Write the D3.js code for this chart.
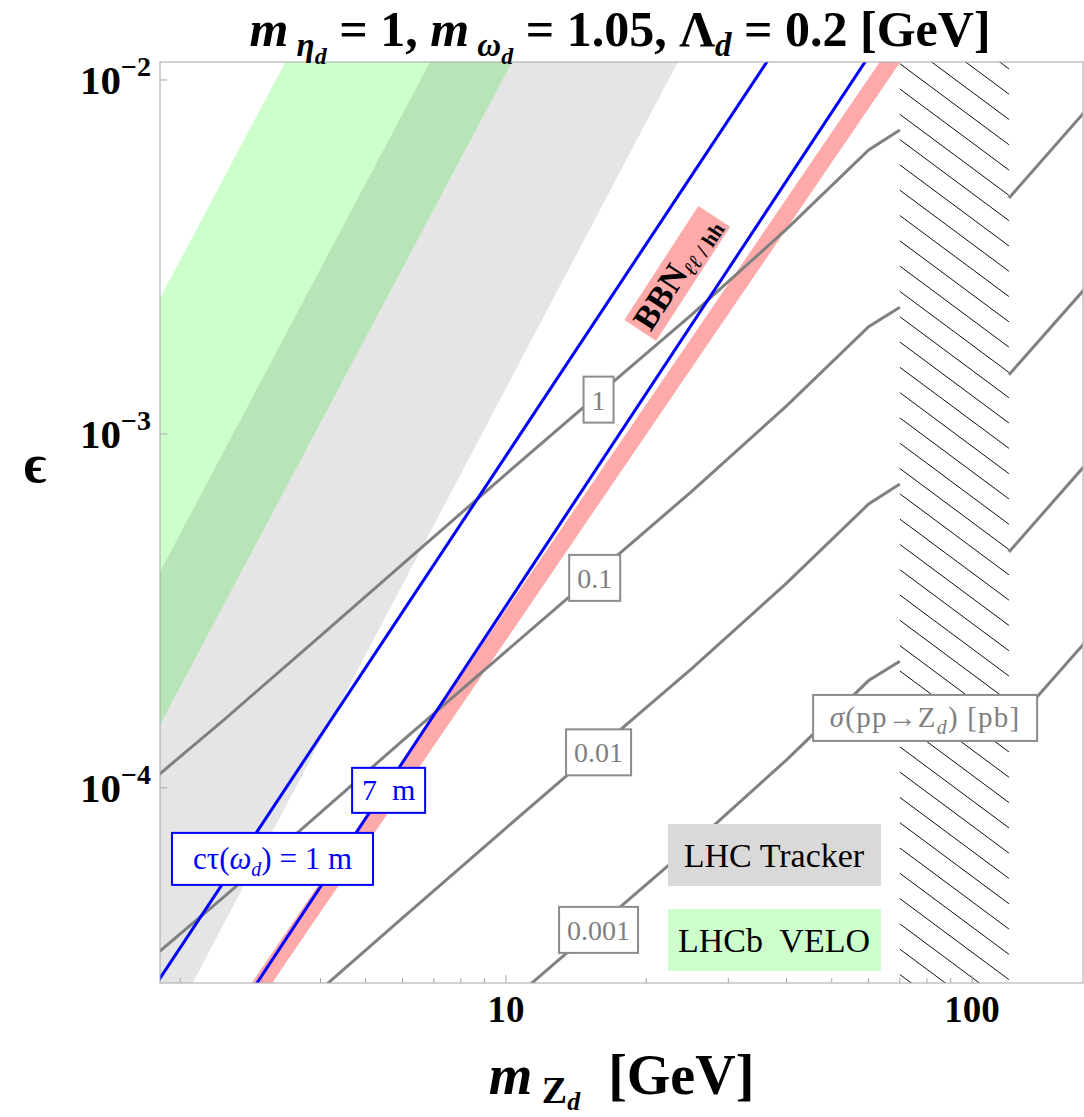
<!DOCTYPE html>
<html>
<head>
<meta charset="utf-8">
<script src="https://cdn.jsdelivr.net/npm/d3@7"></script>
<style>
  body { margin: 0; background: #fff; }
  svg text { font-family: "Liberation Serif", "Times New Roman", serif; white-space: pre; }
</style>
</head>
<body>
<div id="chart"></div>
<script>
// axis ranges and ticks
const massDomain = [1.81, 173];
const epsDomain = [2.81e-5, 0.01124];
const xTickMajor = [10, 100];
const xTickMinor = [2, 3, 4, 5, 6, 7, 8, 9, 20, 30, 40, 50, 60, 70, 80, 90];
const yTickMajor = [1e-4, 1e-3, 1e-2];
const yTickExp = ["4", "3", "2"];

// excluded bands (polygons in m_Zd, epsilon)
const veloBand = [[1.7, 2.07e-3], [3.51, 1.25e-2], [10.75, 1.25e-2], [1.7, 1.29e-4]];
const trackerBand = [[1.7, 3.49e-4], [7.17, 1.25e-2], [24.4, 1.25e-2], [2.03, 2.5e-5], [1.7, 2.5e-5]];
const zGap = [70, 120];

// cross-section contours, sigma(pp -> Zd) [pb]
const contourMass = [1.8, 2.5, 4, 6, 10, 15, 25, 40, 60, 70];
const sigma1 = [1.09e-4, 1.57e-4, 2.69e-4, 4.29e-4, 7.70e-4, 1.22e-3, 2.17e-3, 3.79e-3, 6.34e-3, 7.22e-3];
const sigma01 = [3.44e-5, 4.96e-5, 8.51e-5, 1.36e-4, 2.43e-4, 3.85e-4, 6.87e-4, 1.20e-3, 2.01e-3, 2.28e-3];
const sigma001 = [1.09e-5, 1.57e-5, 2.69e-5, 4.29e-5, 7.70e-5, 1.22e-4, 2.17e-4, 3.79e-4, 6.34e-4, 7.22e-4];
const sigma0001 = [3.44e-6, 4.96e-6, 8.51e-6, 1.36e-5, 2.43e-5, 3.85e-5, 6.87e-5, 1.20e-4, 2.01e-4, 2.28e-4];
const contourMassHigh = [120, 175];
const sigma1High = [4.64e-3, 8.17e-3];
const sigma01High = [1.47e-3, 2.58e-3];
const sigma001High = [4.64e-4, 8.17e-4];
const sigma0001High = [1.47e-4, 2.58e-4];
const contourLabels = ["1", "0.1", "0.01", "0.001"];
const contourLabelMass = [15.8, 15.5, 15.8, 15.8];
const contourLabelEps = [1.25e-3, 3.92e-4, 1.26e-4, 3.97e-5];
const sigmaTitlePos = [79.3, 1.576e-4];

// lifetime lines and BBN
const ctau1m = [[1.7, 2.56e-5], [40, 1.365e-2]];
const ctau7m = [[2.7, 2.40e-5], [65, 1.367e-2]];
const bbnLine = [[2.661, 2.239e-5], [75.06, 1.413e-2]];
const ctau1mLabelPos = [3.155, 6.30e-5];
const ctau7mLabelPos = [5.60, 9.84e-5];
const bbnLabelPos = [23.2, 2.85e-3];

const legendNames = ["LHC Tracker", "LHCb  VELO"];
const legendColors = ["#d9d9d9", "#ccffcc"];

const width = 1084, height = 1117;
const margin = {top: 62, right: 1, bottom: 134, left: 160};
const w = width - margin.left - margin.right;
const h = height - margin.top - margin.bottom;

const x = d3.scaleLog().domain(massDomain).range([0, w]);
const y = d3.scaleLog().domain(epsDomain).range([h, 0]);

const svg = d3.select("#chart").append("svg")
    .attr("width", width)
    .attr("height", height);

svg.append("defs").append("clipPath")
    .attr("id", "plotClip")
    .append("rect")
    .attr("width", w)
    .attr("height", h);

const chart = svg.append("g")
    .attr("transform", `translate(${margin.left},${margin.top})`);
const plot = chart.append("g").attr("clip-path", "url(#plotClip)");

const line = d3.line().x(d => x(d[0])).y(d => y(d[1]));

// rich text helper: parts with vertical offset relative to baseline
function rich(sel, parts, base) {
    let cur = 0;
    parts.forEach(p => {
        const off = p.off || 0;
        sel.append("tspan")
            .attr("dy", off - cur)
            .attr("font-size", p.fs || base)
            .attr("font-style", p.it ? "italic" : null)
            .text(p.t);
        cur = off;
    });
}

// bands
plot.append("path")
    .attr("d", line(veloBand) + "Z")
    .attr("fill", "#ccffcc");
plot.append("path")
    .attr("d", line(trackerBand) + "Z")
    .attr("fill", "#000")
    .attr("fill-opacity", 0.1);

// hatched region
const gx0 = x(zGap[0]), gx1 = x(zGap[1]);
const hatchStep = 25.3, hatchSlope = 0.743;
plot.append("g")
    .selectAll("line")
    .data(d3.range(-6, 40))
    .join("line")
    .attr("x1", gx0)
    .attr("x2", gx1)
    .attr("y1", k => 27 + k * hatchStep)
    .attr("y2", k => 27 + k * hatchStep + hatchSlope * (gx1 - gx0))
    .attr("stroke", "#111")
    .attr("stroke-width", 1);

// BBN band
plot.append("path")
    .attr("d", line(bbnLine))
    .attr("fill", "none")
    .attr("stroke", "#ffaaaa")
    .attr("stroke-width", 17);

// cross-section contours
const lowSets = [sigma1, sigma01, sigma001, sigma0001];
const highSets = [sigma1High, sigma01High, sigma001High, sigma0001High];
lowSets.forEach((s, i) => {
    plot.append("path")
        .attr("d", line(d3.zip(contourMass, s)))
        .attr("fill", "none")
        .attr("stroke", "#808080")
        .attr("stroke-width", 3);
    plot.append("path")
        .attr("d", line(d3.zip(contourMassHigh, highSets[i])))
        .attr("fill", "none")
        .attr("stroke", "#808080")
        .attr("stroke-width", 3);
});

// lifetime lines
[ctau1m, ctau7m].forEach(l => {
    plot.append("path")
        .attr("d", line(l))
        .attr("fill", "none")
        .attr("stroke", "#0000ff")
        .attr("stroke-width", 3);
});

// frame
chart.append("rect")
    .attr("width", w)
    .attr("height", h)
    .attr("fill", "none")
    .attr("stroke", "#a6a6a6")
    .attr("stroke-width", 1);

// x ticks
chart.append("g").selectAll("line")
    .data(xTickMinor)
    .join("line")
    .attr("x1", d => x(d)).attr("x2", d => x(d))
    .attr("y1", h).attr("y2", h - 5)
    .attr("stroke", "#a6a6a6");
chart.append("g").selectAll("line")
    .data(xTickMajor)
    .join("line")
    .attr("x1", d => x(d)).attr("x2", d => x(d))
    .attr("y1", h).attr("y2", h - 8)
    .attr("stroke", "#a6a6a6");
chart.append("g").selectAll("text")
    .data(xTickMajor)
    .join("text")
    .attr("x", d => x(d))
    .attr("y", h + 39)
    .attr("text-anchor", "middle")
    .attr("font-size", 37)
    .attr("font-weight", "bold")
    .text(d => d);

// y ticks
chart.append("g").selectAll("line")
    .data(yTickMajor)
    .join("line")
    .attr("x1", 0).attr("x2", 7)
    .attr("y1", d => y(d)).attr("y2", d => y(d))
    .attr("stroke", "#a6a6a6");
yTickMajor.forEach((d, i) => {
    const t = chart.append("text")
        .attr("x", -9)
        .attr("y", y(d) + 14)
        .attr("text-anchor", "end")
        .attr("font-weight", "bold");
    rich(t, [{t: "10", fs: 41}, {t: "\u2212" + yTickExp[i], fs: 28, off: -18}], 41);
});

// labelled boxes
function boxLabel(pos, parts, opts) {
    const gL = chart.append("g").attr("transform", `translate(${x(pos[0])},${y(pos[1])})`);
    const rect = gL.append("rect");
    const t = gL.append("text")
        .attr("text-anchor", "middle")
        .attr("y", opts.base)
        .attr("fill", opts.color)
        .attr("letter-spacing", opts.ls || 0);
    rich(t, parts, opts.fs);
    const bb = t.node().getBBox();
    const bw = opts.w || bb.width + 2 * opts.padX;
    rect.attr("x", -bw / 2)
        .attr("y", -opts.h / 2)
        .attr("width", bw)
        .attr("height", opts.h)
        .attr("fill", "#fff")
        .attr("stroke", opts.stroke)
        .attr("stroke-width", opts.sw);
    return gL;
}

contourLabels.forEach((lab, i) => {
    boxLabel([contourLabelMass[i], contourLabelEps[i]], [{t: lab}],
        {fs: 28, base: 10, color: "#7f7f7f", stroke: "#8c8c8c", sw: 2, padX: 8, h: 46});
});

boxLabel(sigmaTitlePos, [
    {t: "σ", it: true}, {t: "(pp\u2192Z"}, {t: "d", it: true, fs: 20, off: 7}, {t: ") [pb]", off: 0}
], {fs: 29, base: 9, color: "#7f7f7f", stroke: "#8c8c8c", sw: 2, w: 224, h: 46, ls: 1.2});

boxLabel(ctau1mLabelPos, [
    {t: "cτ("}, {t: "ω", it: true}, {t: "d", it: true, fs: 20, off: 7}, {t: ") = 1 m", off: 0}
], {fs: 31, base: 10, color: "#0000ff", stroke: "#0000ff", sw: 2, w: 201, h: 52});

boxLabel(ctau7mLabelPos, [{t: "7  m"}],
    {fs: 30, base: 10, color: "#0000ff", stroke: "#0000ff", sw: 2, w: 73, h: 45});

// BBN label
const bbnG = chart.append("g")
    .attr("transform", `translate(${x(bbnLabelPos[0])},${y(bbnLabelPos[1])}) rotate(-57)`);
const bbnRect = bbnG.append("rect").attr("fill", "#ffaaaa");
const bbnText = bbnG.append("text")
    .attr("text-anchor", "middle")
    .attr("y", 11)
    .attr("font-weight", "bold");
rich(bbnText, [
    {t: "BBN"}, {t: "ℓℓ", it: true, fs: 21, off: 6}, {t: " / hh", fs: 21, off: 6}
], 34);
const bbb = bbnText.node().getBBox();
bbnRect.attr("x", bbb.x - 4).attr("y", -18).attr("width", bbb.width + 8).attr("height", 38);

// legend
const legend = chart.append("g")
    .attr("transform", `translate(${w - 415},${h - 159})`);
legendNames.forEach((name, i) => {
    const row = legend.append("g").attr("transform", `translate(0,${i * 85})`);
    row.append("rect")
        .attr("width", 213)
        .attr("height", 62)
        .attr("fill", legendColors[i]);
    row.append("text")
        .attr("x", 106)
        .attr("y", 43)
        .attr("text-anchor", "middle")
        .attr("font-size", 34)
        .text(name);
});

// axis titles
const xTitle = svg.append("text")
    .attr("x", margin.left + w / 2)
    .attr("y", 1094)
    .attr("text-anchor", "middle")
    .attr("font-weight", "bold");
rich(xTitle, [
    {t: "m", it: true}, {t: " Z", fs: 38, off: 9}, {t: "d", it: true, fs: 26, off: 16}, {t: "  [GeV]", off: 0}
], 56);

svg.append("text")
    .attr("x", 35)
    .attr("y", 482)
    .attr("text-anchor", "middle")
    .attr("font-weight", "bold")
    .attr("font-size", 54)
    .text("ϵ");

const title = svg.append("text")
    .attr("x", 620)
    .attr("y", 46)
    .attr("text-anchor", "middle")
    .attr("font-weight", "bold");
rich(title, [
    {t: "m", it: true}, {t: " η", it: true, fs: 33, off: 10}, {t: "d", it: true, fs: 24, off: 18},
    {t: " = 1, ", off: 0}, {t: "m", it: true}, {t: " ω", it: true, fs: 33, off: 10}, {t: "d", it: true, fs: 24, off: 18},
    {t: " = 1.05, Λ", off: 0}, {t: "d", it: true, fs: 33, off: 10}, {t: " = 0.2 [GeV]", off: 0}
], 50);
</script>
</body>
</html>
